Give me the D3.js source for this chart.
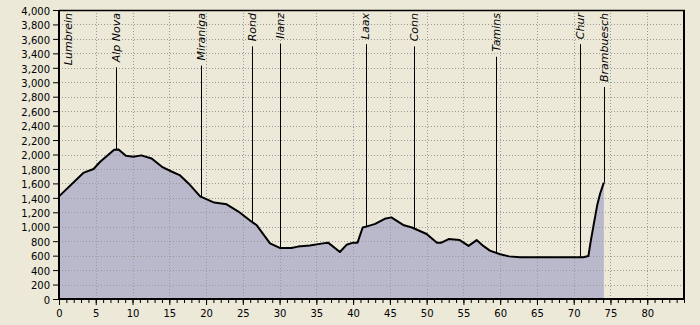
<!DOCTYPE html>
<html>
<head>
<meta charset="utf-8">
<script src="https://cdn.jsdelivr.net/npm/d3@7"></script>
<style>
  body { margin: 0; background: #ECE9D8; }
  svg { display: block; }
  .grid line { stroke: #9a9a9a; stroke-dasharray: 1,2; shape-rendering: crispEdges; }
  .tick text { font-family: "DejaVu Sans", sans-serif; font-size: 10px; fill: #000; }
</style>
</head>
<body>
<div class="canva"></div>
<script>
// profile: distance (km) vs elevation (m)
const km =   [0, 3.3, 4.7, 5.6, 7.5, 8.1, 9.1, 10.1, 11.2, 12.6, 14.0, 15.3, 16.4, 17.8, 19.2, 21.1, 22.8, 24.4, 26.2, 26.9, 28.7, 30.1, 31.6, 32.5, 34.1, 35.9, 36.6, 38.2, 39.1, 40.0, 40.6, 41.3, 41.9, 43.0, 44.3, 45.2, 46.8, 48.0, 50.0, 51.4, 52.0, 53.0, 54.5, 55.7, 56.8, 57.7, 58.6, 60.0, 61.2, 62.7, 71.3, 72.0, 72.3, 72.7, 73.2, 73.6, 74.1];
const elev = [1420, 1745, 1800, 1900, 2065, 2070, 1982, 1970, 1988, 1945, 1830, 1765, 1715, 1580, 1420, 1335, 1310, 1210, 1070, 1020, 770, 705, 705, 725, 740, 770, 780, 650, 750, 780, 780, 990, 1005, 1040, 1110, 1130, 1025, 990, 900, 780, 780, 830, 815, 735, 815, 735, 670, 620, 590, 578, 578, 595, 790, 1020, 1300, 1460, 1610];

// places along the route
const placeNames = ['Lumbrein', 'Alp Nova', 'Miraniga', 'Rond', 'Ilanz', 'Laax', 'Conn', 'Tamins', 'Chur', 'Brambuesch'];
const placeKm = [0, 7.8, 19.3, 26.3, 30.05, 41.7, 48.3, 59.5, 70.9, 74.1];

const xTicks = d3.range(0, 85, 5);
const yTicks = d3.range(0, 4001, 200);

const width = 700, height = 325;
const svg = d3.select('.canva').append('svg')
  .attr('width', width)
  .attr('height', height);

const x = d3.scaleLinear().domain([0, 85]).range([59, 684]);
const y = d3.scaleLinear().domain([0, 4000]).range([299, 10]);

const pts = km.map((k, i) => [k, elev[i]]);

// fill under profile
svg.append('path')
  .datum(pts)
  .attr('fill', '#BAB8CB')
  .attr('d', d3.area().x(d => x(d[0])).y0(y(0)).y1(d => y(d[1])));

// grid
const grid = svg.append('g').attr('class', 'grid');
grid.selectAll('.gy').data(yTicks.filter(v => v > 0 && v < 4000)).enter().append('line')
  .attr('x1', x(0)).attr('x2', x(85))
  .attr('y1', d => y(d) + 0.5).attr('y2', d => y(d) + 0.5);
grid.selectAll('.gx').data(xTicks.filter(v => v > 0)).enter().append('line')
  .attr('x1', d => Math.round(x(d)) + 0.5).attr('x2', d => Math.round(x(d)) + 0.5)
  .attr('y1', y(4000)).attr('y2', y(0));

// profile line
svg.append('path')
  .datum(pts)
  .attr('fill', 'none')
  .attr('stroke', '#000')
  .attr('stroke-width', 2)
  .attr('stroke-linejoin', 'round')
  .attr('d', d3.line().x(d => x(d[0])).y(d => y(d[1])));

// axes
const yAxis = svg.append('g')
  .attr('transform', `translate(${x(0) - 1},0)`)
  .call(d3.axisLeft(y).tickValues(yTicks).tickSize(5).tickPadding(3).tickSizeOuter(0).tickFormat(d3.format(',')));
yAxis.selectAll('.tick text').attr('dy', '0.42em');

svg.append('g')
  .attr('transform', `translate(0,${y(0) + 1})`)
  .call(d3.axisBottom(x).ticks(85).tickSize(3).tickFormat('').tickSizeOuter(0))
  .call(g => g.select('.domain').remove());
const xAxis = svg.append('g')
  .attr('transform', `translate(0,${y(0) + 1})`)
  .call(d3.axisBottom(x).tickValues(xTicks).tickSize(5).tickPadding(5).tickSizeOuter(0));
xAxis.select('.domain').remove();
yAxis.select('.domain').remove();
svg.selectAll('.tick line').attr('stroke', '#000');

// frame
svg.append('line').attr('x1', x(0)).attr('x2', x(85) + 1).attr('y1', y(4000) + 0.5).attr('y2', y(4000) + 0.5)
  .attr('stroke', '#000').attr('stroke-width', 1.5);
svg.append('line').attr('x1', x(85)).attr('x2', x(85)).attr('y1', y(4000)).attr('y2', y(0) + 1)
  .attr('stroke', '#000').attr('stroke-width', 2);
svg.append('line').attr('x1', x(0) - 1).attr('x2', x(85) + 1).attr('y1', y(0)).attr('y2', y(0))
  .attr('stroke', '#000').attr('stroke-width', 2);
svg.append('line').attr('x1', x(0)).attr('x2', x(0)).attr('y1', y(4000)).attr('y2', y(0) + 1)
  .attr('stroke', '#000').attr('stroke-width', 2);

// place labels + markers
const elevAt = d3.scaleLinear().domain(km).range(elev);
placeNames.forEach((name, i) => {
  const px = Math.max(x(placeKm[i]), x(0) + 9);
  const t = svg.append('text')
    .attr('transform', `translate(${px},13) rotate(-90)`)
    .attr('text-anchor', 'end')
    .attr('dy', '0.35em')
    .style('font-family', '"DejaVu Sans", sans-serif')
    .style('font-style', 'italic')
    .style('font-size', '11px')
    .text(name);
  const len = t.node().getComputedTextLength();
  if (placeKm[i] > 0) {
    const lx = Math.round(x(placeKm[i])) + 0.5;
    svg.append('line')
      .attr('x1', lx).attr('x2', lx)
      .attr('y1', 13 + len + 5).attr('y2', y(elevAt(placeKm[i])))
      .attr('stroke', '#000').attr('stroke-width', 1);
  }
});
</script>
</body>
</html>
